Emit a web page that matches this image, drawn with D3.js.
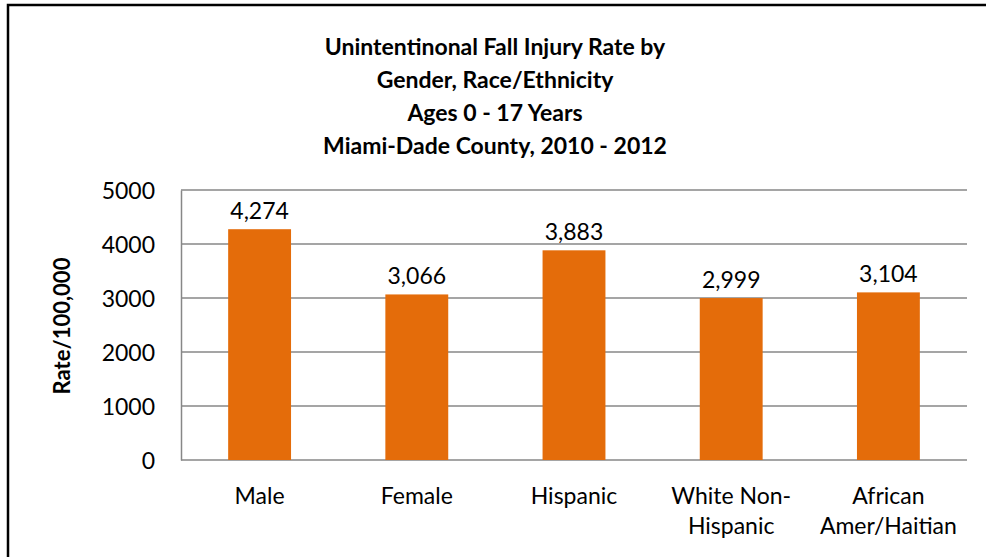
<!DOCTYPE html>
<html>
<head>
<meta charset="utf-8">
<script src="https://cdn.jsdelivr.net/npm/d3@7"></script>
<style>
  body { margin: 0; background: #fff; overflow: hidden; }
  text { font-family: Lato, "Open Sans", sans-serif; fill: #000; }
</style>
</head>
<body>
<div id="chart"></div>
<script>
// chart data
const categories = ["Male", "Female", "Hispanic", "White Non-|Hispanic", "African|Amer/Haitian"];
const rates = [4274, 3066, 3883, 2999, 3104];
const yTicks = [0, 1000, 2000, 3000, 4000, 5000];
const titleLines = ["Unintentinonal Fall Injury Rate by", "Gender, Race/Ethnicity",
  "Ages 0 - 17 Years", "Miami-Dade County, 2010 - 2012"];

const width = 986, height = 557;
const margin = {top: 190, right: 19, bottom: 97, left: 181};

const svg = d3.select("#chart")
  .append("svg")
  .attr("width", width)
  .attr("height", height);

// outer frame (right and bottom edges fall outside the picture)
svg.append("rect")
  .attr("x", 8).attr("y", 5)
  .attr("width", 1000).attr("height", 600)
  .attr("fill", "none")
  .attr("stroke", "#000")
  .attr("stroke-width", 2.5);

let xScale = d3.scaleBand()
  .domain(categories)
  .range([margin.left, width - margin.right])
  .paddingInner(0.6)
  .paddingOuter(0.3);

let yScale = d3.scaleLinear()
  .domain([0, 5000])
  .range([height - margin.bottom, margin.top]);

// gridlines
svg.append("g")
  .selectAll("line")
  .data(yTicks)
  .enter()
  .append("line")
  .attr("x1", margin.left)
  .attr("x2", width - margin.right)
  .attr("y1", d => yScale(d))
  .attr("y2", d => yScale(d))
  .attr("stroke", "#878787")
  .attr("stroke-width", 1.5);

// y axis
const yAxis = svg.append("g")
  .attr("transform", `translate(${margin.left}, 0)`)
  .call(d3.axisLeft(yScale).tickValues(yTicks).tickSize(0).tickPadding(26).tickFormat(d3.format("d")));
yAxis.select(".domain").attr("stroke", "#878787").attr("stroke-width", 1.5);
yAxis.selectAll("text").attr("font-size", "23px").attr("dy", "0.36em");

// bars
svg.selectAll(".bar")
  .data(rates)
  .enter()
  .append("rect")
  .attr("class", "bar")
  .attr("x", (d, i) => xScale(categories[i]))
  .attr("y", d => yScale(d))
  .attr("width", xScale.bandwidth())
  .attr("height", d => yScale(0) - yScale(d))
  .attr("fill", "#E46C0A");

// value labels
svg.selectAll(".val")
  .data(rates)
  .enter()
  .append("text")
  .attr("class", "val")
  .attr("x", (d, i) => xScale(categories[i]) + xScale.bandwidth() / 2)
  .attr("y", d => yScale(d) - 10)
  .attr("text-anchor", "middle")
  .attr("font-size", "23px")
  .text(d => d3.format(",")(d));

// category labels
const xLab = svg.selectAll(".cat")
  .data(categories)
  .enter()
  .append("text")
  .attr("class", "cat")
  .attr("text-anchor", "middle")
  .attr("font-size", "23px")
  .attr("x", d => xScale(d) + xScale.bandwidth() / 2)
  .attr("y", 504);
xLab.selectAll("tspan")
  .data(d => d.split("|").map(s => ({s: s, x: xScale(d) + xScale.bandwidth() / 2})))
  .enter()
  .append("tspan")
  .attr("x", d => d.x)
  .attr("dy", (d, i) => i === 0 ? 0 : 30)
  .text(d => d.s);

// y title
svg.append("text")
  .attr("transform", "translate(70, 326) rotate(-90)")
  .attr("text-anchor", "middle")
  .attr("font-size", "22px")
  .attr("font-weight", "bold")
  .text("Rate/100,000");

// chart title
svg.append("g")
  .selectAll("text")
  .data(titleLines)
  .enter()
  .append("text")
  .attr("x", 495)
  .attr("y", (d, i) => 55 + i * 33)
  .attr("text-anchor", "middle")
  .attr("font-size", "23px")
  .attr("font-weight", "bold")
  .text(d => d);
</script>
</body>
</html>
